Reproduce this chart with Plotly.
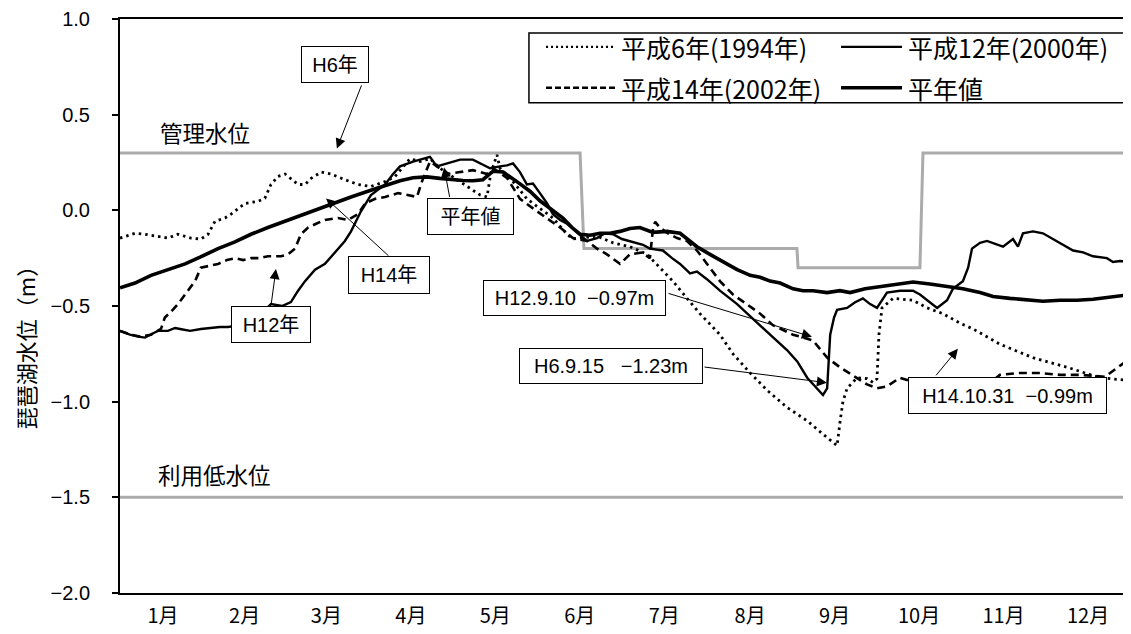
import plotly.graph_objects as go

# ---------------- data ----------------
months = ["1月", "2月", "3月", "4月", "5月", "6月", "7月", "8月", "9月", "10月", "11月", "12月"]
month_mid_day = [15.5, 45, 74.5, 105, 135.5, 166, 196.5, 227.5, 258, 288.5, 319, 349.5]

# 平年値 (average)
avg_day = [0, 5.4, 11.2, 17.3, 23.5, 28.9, 35.4, 41.5, 47.3, 53.4, 59.6, 65.0, 71.5, 77.6, 83.4, 89.5,
           95.7, 101.1, 105.8, 110.8, 115.5, 119.8, 123.8, 127.4, 131.0, 134.7, 138.3, 143.3, 148.0,
           151.6, 155.2, 159.9, 163.2, 166.1, 169.7, 173.3, 176.9, 180.5, 184.1, 187.7, 192.4, 197.5,
           202.2, 208.3, 213.0, 216.6, 222.8, 227.5, 231.1, 234.7, 238.3, 243.0, 246.6, 250.2, 255.3,
           259.9, 263.6, 269.0, 274.4, 280.5, 286.3, 292.4, 298.6, 304.3, 310.5, 315.2, 321.3, 327.5,
           333.2, 339.4, 345.5, 351.3, 357.4, 365.0]
avg_val = [-0.405, -0.38, -0.34, -0.31, -0.28, -0.245, -0.20, -0.165, -0.125, -0.09, -0.057, -0.025,
           0.01, 0.04, 0.07, 0.10, 0.13, 0.155, 0.17, 0.175, 0.167, 0.16, 0.156, 0.155, 0.16, 0.205,
           0.20, 0.15, 0.10, 0.05, 0.01, -0.04, -0.09, -0.125, -0.13, -0.12, -0.12, -0.11, -0.095,
           -0.09, -0.115, -0.11, -0.12, -0.19, -0.23, -0.26, -0.31, -0.34, -0.35, -0.37, -0.38, -0.41,
           -0.42, -0.42, -0.43, -0.42, -0.43, -0.41, -0.40, -0.39, -0.375, -0.385, -0.40, -0.41, -0.43,
           -0.45, -0.46, -0.47, -0.475, -0.47, -0.47, -0.465, -0.455, -0.44]

# 平成12年 (2000)
h12_day = [0, 3.6, 6.5, 9.0, 11.6, 13.7, 17.3, 19.9, 21.7, 25.3, 29.2, 32.5, 36.1, 39.0, 43.3, 46.9,
           50.5, 54.5, 58.5, 61.7, 64.3, 66.8, 70.4, 74.0, 76.5, 78.7, 81.2, 83.4, 87.0, 90.6, 95.7,
           98.6, 101.1, 105.8, 109.0, 111.9, 114.4, 118.1, 122.8, 127.4, 130.0, 133.6, 137.2, 139.7,
           141.9, 144.4, 146.9, 149.1, 151.6, 154.2, 156.3, 158.9, 161.4, 164.3, 166.1, 168.6, 172.2,
           175.1, 178.0, 181.2, 184.1, 188.8, 191.3, 196.0, 199.3, 202.2, 205.8, 208.3, 211.9, 216.6,
           222.8, 229.3, 234.7, 240.8, 244.5, 248.1, 251.0, 253.8, 255.3, 256.4, 257.8, 258.9, 262.5,
           265.4, 268.2, 270.8, 273.3, 276.9, 281.6, 286.3, 288.8, 291.4, 295.0, 298.6, 300.7, 304.3,
           306.2, 307.6, 310.5, 313.0, 315.9, 318.8, 322.4, 324.2, 326.0, 329.6, 333.2, 336.8, 340.4,
           344.1, 347.7, 351.3, 356.3, 358.5, 361.0, 365.0]
h12_val = [-0.63, -0.65, -0.66, -0.665, -0.645, -0.63, -0.63, -0.615, -0.62, -0.63, -0.62, -0.615,
           -0.61, -0.61, -0.60, -0.58, -0.55, -0.49, -0.50, -0.48, -0.42, -0.37, -0.31, -0.28, -0.24,
           -0.20, -0.16, -0.11, -0.005, 0.08, 0.135, 0.19, 0.23, 0.255, 0.27, 0.28, 0.23, 0.245, 0.265,
           0.265, 0.245, 0.22, 0.23, 0.235, 0.245, 0.20, 0.135, 0.14, 0.09, 0.036, -0.02, -0.05, -0.07,
           -0.11, -0.13, -0.16, -0.145, -0.12, -0.125, -0.15, -0.16, -0.18, -0.20, -0.21, -0.25, -0.28,
           -0.33, -0.32, -0.36, -0.42, -0.49, -0.58, -0.65, -0.73, -0.79, -0.875, -0.92, -0.965, -0.93,
           -0.65, -0.56, -0.52, -0.51, -0.48, -0.46, -0.49, -0.51, -0.43, -0.42, -0.42, -0.44, -0.47,
           -0.51, -0.47, -0.41, -0.37, -0.30, -0.20, -0.17, -0.16, -0.175, -0.19, -0.15, -0.19, -0.12,
           -0.11, -0.12, -0.15, -0.18, -0.21, -0.22, -0.24, -0.25, -0.27, -0.265, -0.27]

# 平成6年 (1994)
h6_day = [0, 2.9, 5.4, 9.0, 13.7, 17.3, 20.9, 25.6, 29.2, 31.8, 34.3, 37.9, 40.1, 42.6, 45.1, 49.8,
          52.3, 54.5, 57.0, 59.6, 61.7, 64.3, 66.8, 69.0, 72.6, 76.2, 81.2, 85.9, 90.6, 95.7, 99.3,
          102.2, 104.7, 108.3, 111.9, 115.5, 118.4, 121.7, 126.4, 130.0, 132.5, 133.6, 134.7, 136.1,
          137.2, 141.9, 146.9, 151.6, 156.3, 161.4, 163.5, 166.1, 172.2, 178.0, 184.1, 190.3, 194.9,
          199.6, 204.7, 209.4, 216.6, 221.3, 227.5, 233.6, 240.8, 248.1, 253.8, 258.9, 260.0, 261.0,
          262.5, 266.1, 269.7, 271.9, 273.3, 274.0, 275.1, 279.1, 286.3, 291.4, 297.1, 303.3, 308.0,
          317.7, 329.6, 341.9, 353.8, 365.0]
h6_val = [-0.145, -0.13, -0.12, -0.125, -0.135, -0.145, -0.125, -0.145, -0.15, -0.125, -0.057, -0.04,
          -0.02, 0.01, 0.036, 0.047, 0.063, 0.135, 0.177, 0.19, 0.167, 0.135, 0.135, 0.167, 0.20, 0.19,
          0.16, 0.135, 0.125, 0.15, 0.177, 0.23, 0.27, 0.255, 0.27, 0.22, 0.19, 0.16, 0.115, 0.08, 0.07,
          0.17, 0.23, 0.29, 0.22, 0.15, 0.06, 0.01, -0.04, -0.125, -0.15, -0.145, -0.135, -0.17, -0.19,
          -0.23, -0.30, -0.37, -0.46, -0.54, -0.65, -0.75, -0.85, -0.94, -1.03, -1.10, -1.17, -1.23,
          -1.10, -1.00, -0.93, -0.875, -0.88, -0.90, -0.88, -0.65, -0.51, -0.46, -0.47, -0.51, -0.54,
          -0.59, -0.62, -0.70, -0.77, -0.82, -0.875, -0.89]

# 平成14年 (2002)
h14_day = [0, 4.0, 7.6, 11.2, 14.8, 16.2, 18.4, 20.9, 23.5, 27.1, 29.2, 32.5, 35.4, 38.6, 41.5, 44.4,
           47.3, 50.5, 53.4, 56.0, 58.1, 60.7, 63.2, 65.3, 67.9, 70.8, 74.0, 78.7, 82.3, 85.9, 88.5,
           92.1, 95.7, 100.4, 103.6, 107.2, 109.0, 111.9, 114.4, 118.1, 122.8, 127.4, 132.5, 134.7,
           139.7, 144.4, 149.1, 154.2, 158.9, 163.5, 168.6, 172.2, 175.8, 180.5, 184.1, 188.5, 191.3,
           192.4, 193.2, 194.9, 197.8, 201.1, 204.7, 208.3, 211.9, 216.6, 221.3, 226.4, 231.1, 235.7,
           243.0, 250.2, 255.3, 259.9, 266.1, 269.7, 273.3, 276.9, 281.6, 287.0, 292.4, 297.9, 304.0,
           308.7, 314.1, 317.7, 324.9, 332.1, 339.4, 346.6, 355.6, 360.3, 365.0]
h14_val = [-0.63, -0.65, -0.66, -0.65, -0.62, -0.56, -0.53, -0.49, -0.44, -0.37, -0.30, -0.29, -0.28,
           -0.26, -0.25, -0.26, -0.25, -0.25, -0.24, -0.24, -0.24, -0.23, -0.20, -0.125, -0.09, -0.07,
           -0.05, -0.04, -0.05, -0.02, 0.036, 0.06, 0.07, 0.09, 0.08, 0.07, 0.15, 0.255, 0.23, 0.19, 0.20,
           0.21, 0.19, 0.22, 0.17, 0.06, 0.01, -0.04, -0.09, -0.145, -0.16, -0.20, -0.23, -0.28, -0.23,
           -0.22, -0.25, -0.10, -0.06, -0.09, -0.12, -0.145, -0.16, -0.21, -0.28, -0.37, -0.44, -0.49,
           -0.54, -0.60, -0.65, -0.68, -0.77, -0.82, -0.875, -0.91, -0.93, -0.92, -0.875, -0.90, -0.93,
           -0.96, -0.99, -0.96, -0.90, -0.86, -0.85, -0.85, -0.86, -0.86, -0.87, -0.82, -0.77]

# 管理水位 (control level) and 利用低水位 (lowest usable level)
ctrl_day = [0, 166.1, 167.5, 244.4, 244.8, 288.8, 289.9, 365]
ctrl_val = [0.3, 0.3, -0.2, -0.2, -0.3, -0.3, 0.3, 0.3]
low_day = [0, 365]
low_val = [-1.5, -1.5]

legend_names = ["平成6年(1994年)", "平成12年(2000年)", "平成14年(2002年)", "平年値"]

# ---------------- figure ----------------
LAT = "Arial, 'Liberation Sans', 'Noto Sans CJK JP', sans-serif"
JP = "'Noto Sans CJK JP', sans-serif"
GRAY = "#ababab"

fig = go.Figure()
fig.add_trace(go.Scatter(x=ctrl_day, y=ctrl_val, mode="lines", line=dict(color=GRAY, width=3),
                         showlegend=False, hoverinfo="skip"))
fig.add_trace(go.Scatter(x=low_day, y=low_val, mode="lines", line=dict(color=GRAY, width=3),
                         showlegend=False, hoverinfo="skip"))
fig.add_trace(go.Scatter(x=h6_day, y=h6_val, mode="lines", name=legend_names[0],
                         line=dict(color="black", width=2.8, dash="2.5px,4px"), showlegend=False))
fig.add_trace(go.Scatter(x=h14_day, y=h14_val, mode="lines", name=legend_names[2],
                         line=dict(color="black", width=2.6, dash="8px,5px"), showlegend=False))
fig.add_trace(go.Scatter(x=h12_day, y=h12_val, mode="lines", name=legend_names[1],
                         line=dict(color="black", width=2.4), showlegend=False))
fig.add_trace(go.Scatter(x=avg_day, y=avg_val, mode="lines", name=legend_names[3],
                         line=dict(color="black", width=3.6), showlegend=False))

annotations = []
shapes = []

# text boxes (center x, center y, w, h, text)
boxes = [
    (77.6, 0.760, 68, 37, "H6年"),
    (126.5, -0.034, 87, 37, "平年値"),
    (97.1, -0.339, 82, 38, "H14年"),
    (54.5, -0.596, 80, 37, "H12年"),
    (164.1, -0.458, 183, 36, "H12.9.10\u00a0\u00a0\u22120.97m"),
    (177.3, -0.8125, 184, 36, "H6.9.15\u00a0\u00a0\u00a0\u22121.23m"),
    (320.4, -0.966, 199, 37, "H14.10.31\u00a0\u00a0\u22120.99m"),
]
for bx, by, bw, bh, bt in boxes:
    annotations.append(dict(x=bx, y=by, xref="x", yref="y", text=bt, showarrow=False,
                            xanchor="center", yanchor="middle", width=bw - 2, height=bh - 2,
                            bgcolor="white", bordercolor="black", borderwidth=1, borderpad=0,
                            font=dict(family=LAT, size=20, color="black")))

# arrows (tail x, tail y, head x, head y)
arrows = [
    (87.4, 0.661, 78.3, 0.323),
    (119.1, 0.0625, 117.0, 0.224),
    (97.5, -0.245, 74.4, 0.0625),
    (54.5, -0.50, 56.3, -0.307),
    (197.5, -0.432, 249.8, -0.661),
    (210.5, -0.818, 255.2, -0.901),
    (294.2, -0.870, 302.5, -0.724),
]
for tx, ty, hx, hy in arrows:
    annotations.append(dict(x=hx, y=hy, ax=tx, ay=ty, xref="x", yref="y", axref="x", ayref="y",
                            text="", showarrow=True, arrowhead=2, arrowsize=2, arrowwidth=1,
                            arrowcolor="black", standoff=0, startstandoff=0))

# level labels
annotations.append(dict(x=13.7, y=0.411, xref="x", yref="y", text="管理水位", showarrow=False,
                        xanchor="left", yanchor="middle", font=dict(family=JP, size=22.5, color="black")))
annotations.append(dict(x=13.0, y=-1.38, xref="x", yref="y", text="利用低水位", showarrow=False,
                        xanchor="left", yanchor="middle", font=dict(family=JP, size=22.5, color="black")))

# y-axis title
annotations.append(dict(x=-0.094, y=0.437, xref="paper", yref="paper", text="琵琶湖水位（m）",
                        showarrow=False, textangle=-90, xanchor="center", yanchor="middle",
                        font=dict(family=JP, size=22, color="black")))

# legend (manual, two columns)
shapes.append(dict(type="rect", xref="paper", yref="paper", x0=0.4045, x1=0.9941, y0=0.8542, y1=0.9757,
                   line=dict(color="black", width=1.5), fillcolor="white", layer="above"))
leg_items = [
    (0.4214, 0.4896, 0.9514, dict(color="black", width=2.2, dash="2px,3px"), legend_names[0]),
    (0.7132, 0.7735, 0.9514, dict(color="black", width=2.4), legend_names[1]),
    (0.4214, 0.4896, 0.8802, dict(color="black", width=2.4, dash="6px,3px"), legend_names[2]),
    (0.7132, 0.7735, 0.8802, dict(color="black", width=3.6), legend_names[3]),
]
for x0, x1, yy, ln, name in leg_items:
    shapes.append(dict(type="line", xref="paper", yref="paper", x0=x0, x1=x1, y0=yy, y1=yy,
                       line=ln, layer="above"))
    annotations.append(dict(x=x1 + 0.004, y=yy, xref="paper", yref="paper", text=name,
                            showarrow=False, xanchor="left", yanchor="middle",
                            font=dict(family=JP, size=25, color="black")))

fig.update_layout(
    width=1123, height=626, autosize=False,
    margin=dict(l=112, r=0, t=9, b=41),
    plot_bgcolor="white", paper_bgcolor="white",
    showlegend=False,
    annotations=annotations, shapes=shapes,
    xaxis=dict(range=[0, 365], tickvals=month_mid_day, ticktext=months, ticks="",
               showline=True, linecolor="black", linewidth=2, mirror=True,
               showgrid=False, zeroline=False, ticklabelstandoff=4,
               tickfont=dict(family=JP, size=20, color="black")),
    yaxis=dict(range=[-2, 1], dtick=0.5, tick0=0, tickformat=".1f", ticks="outside", ticklen=6,
               tickwidth=1.5, tickcolor="black", showline=True, linecolor="black", linewidth=2,
               showgrid=False, zeroline=False, ticklabelstandoff=18, ticklabeloverflow="allow",
               tickfont=dict(family=LAT, size=20, color="black")),
)

fig.write_html("out.html")
